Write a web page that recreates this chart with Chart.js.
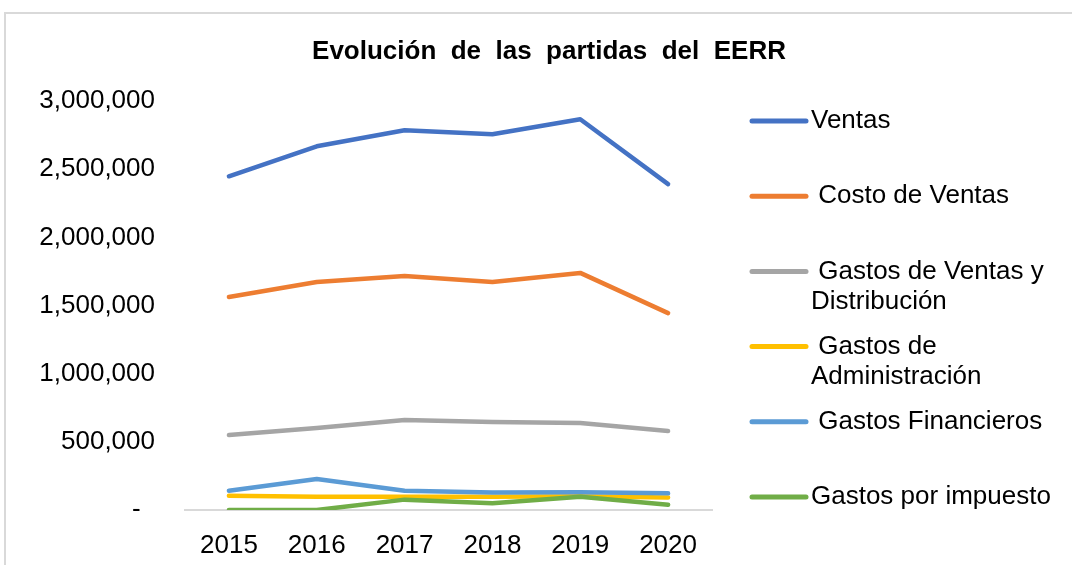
<!DOCTYPE html>
<html>
<head>
<meta charset="utf-8">
<script src="https://cdn.jsdelivr.net/npm/chart.js@4"></script>
<style>
  body { margin: 0; background: #fff; overflow: hidden; }
  #frame { position: absolute; left: 4px; top: 12px; width: 1100px; height: 600px; border: 2px solid #d9d9d9; }
  #c { position: absolute; left: 0; top: 0; }
</style>
</head>
<body>
<div id="frame"></div>
<canvas id="c" width="1072" height="565"></canvas>
<script>
const years = ['2015', '2016', '2017', '2018', '2019', '2020'];

const ventas = [2448000, 2668000, 2785000, 2756000, 2866000, 2390000];
const costoVentas = [1563000, 1673000, 1717000, 1673000, 1739000, 1444000];
const gastosVentasDist = [550000, 601000, 660000, 645000, 638000, 579000];
const gastosAdmin = [105000, 97000, 97000, 97000, 101000, 92000];
const gastosFinancieros = [141000, 227000, 141000, 129000, 131000, 122000];
const gastosImpuesto = [0, 0, 76000, 49000, 97000, 39000];

const chartTitle = 'Evolución  de  las  partidas  del  EERR';
const seriesLabels = ['Ventas', 'Costo de Ventas', 'Gastos de Ventas y Distribución',
    'Gastos de Administración', 'Gastos Financieros', 'Gastos por impuesto'];
const legendLines = [
    ['Ventas'],
    [' Costo de Ventas'],
    [' Gastos de Ventas y', 'Distribución'],
    [' Gastos de', 'Administración'],
    [' Gastos Financieros'],
    ['Gastos por impuesto']
];
const colors = ['#4472C4', '#ED7D31', '#A5A5A5', '#FFC000', '#5B9BD5', '#70AD47'];
const seriesData = [ventas, costoVentas, gastosVentasDist, gastosAdmin, gastosFinancieros, gastosImpuesto];

const FONT = '"Liberation Sans", Arial, sans-serif';

// title centred on the whole frame, not just the plot area
const frameTitle = {
    id: 'frameTitle',
    afterDraw(chart) {
        const { ctx } = chart;
        ctx.save();
        ctx.font = 'bold 26px ' + FONT;
        ctx.fillStyle = '#000';
        ctx.textAlign = 'center';
        ctx.textBaseline = 'middle';
        ctx.fillText(chartTitle, chart.width / 2 + 13, 52);
        ctx.restore();
    }
};

// legend on the right, drawn by hand so labels can wrap like the original
const sideLegend = {
    id: 'sideLegend',
    afterDraw(chart) {
        const { ctx, chartArea } = chart;
        const x0 = chartArea.right + 40;
        const step = (chartArea.bottom - chartArea.top - 33) / 5;
        ctx.save();
        ctx.font = '26px ' + FONT;
        ctx.textBaseline = 'middle';
        ctx.textAlign = 'left';
        chart.data.datasets.forEach((ds, i) => {
            const y = chartArea.top + 20 + i * step;
            ctx.strokeStyle = ds.borderColor;
            ctx.lineWidth = 5;
            ctx.lineCap = 'round';
            ctx.beginPath();
            ctx.moveTo(x0, y);
            ctx.lineTo(x0 + 54, y);
            ctx.stroke();
            ctx.fillStyle = '#000';
            legendLines[i].forEach((line, j) => {
                ctx.fillText(line, x0 + 59, y + j * 30);
            });
        });
        ctx.restore();
    }
};

Chart.defaults.font.family = FONT;
Chart.defaults.color = '#000';

new Chart(document.getElementById('c'), {
    type: 'line',
    data: {
        labels: years,
        datasets: seriesData.map((d, i) => ({
            label: seriesLabels[i],
            data: d,
            borderColor: colors[i],
            backgroundColor: colors[i],
            borderWidth: 4.5,
            borderCapStyle: 'round',
            borderJoinStyle: 'round',
            pointRadius: 0,
            tension: 0,
            order: seriesData.length - i
        }))
    },
    options: {
        responsive: false,
        devicePixelRatio: 1,
        animation: false,
        layout: { padding: { top: 101, left: 0, right: 360, bottom: 9 } },
        plugins: {
            legend: { display: false },
            tooltip: { enabled: false },
            title: { display: false }
        },
        scales: {
            x: {
                offset: true,
                grid: { display: false, drawTicks: false },
                border: { display: true, color: '#d9d9d9', width: 2 },
                ticks: { font: { size: 26 }, padding: 20, maxRotation: 0 },
                afterFit: s => { s.height = 46; }
            },
            y: {
                min: 0, max: 3000000,
                grid: { display: false, drawTicks: false },
                border: { display: false },
                ticks: {
                    stepSize: 500000,
                    font: { size: 26 },
                    padding: 30,
                    callback: v => v === 0 ? '-  ' : v.toLocaleString('en-US')
                },
                afterFit: s => { s.width = 185; }
            }
        }
    },
    plugins: [frameTitle, sideLegend]
});
</script>
</body>
</html>
